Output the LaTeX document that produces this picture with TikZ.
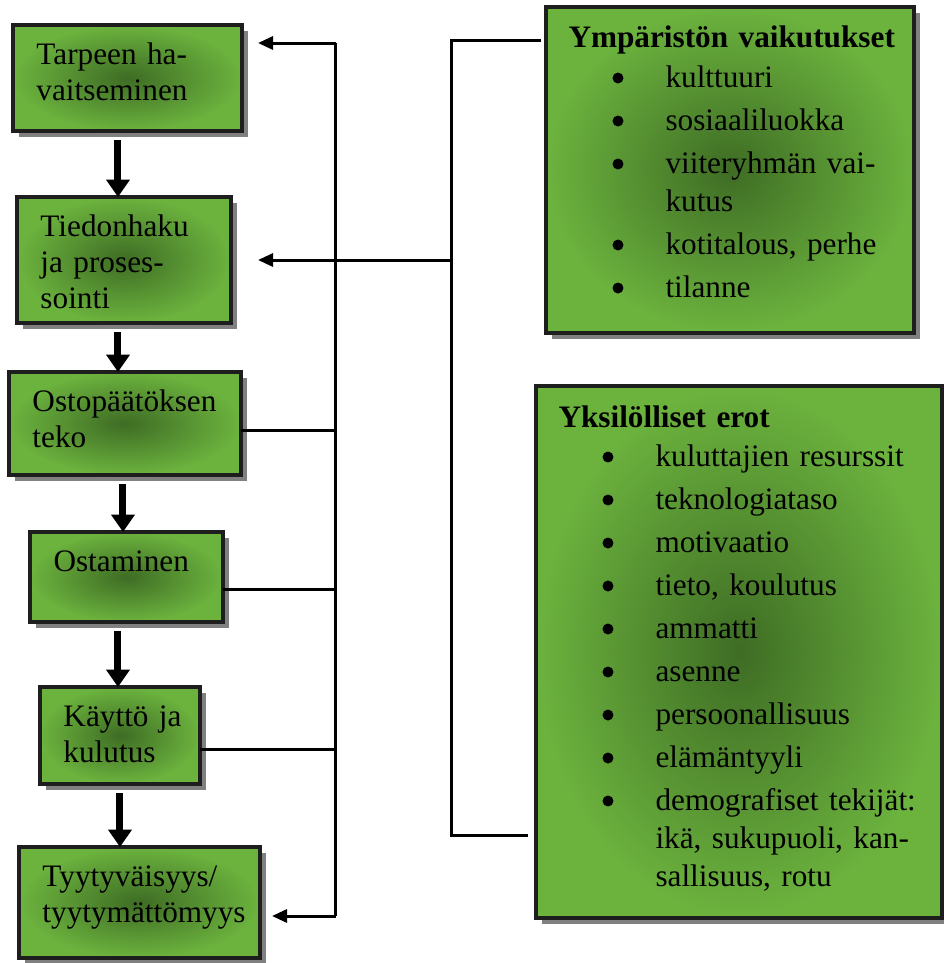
\documentclass[tikz,border=0pt]{standalone}
\usepackage{fontspec}
\setmainfont{Liberation Serif}
\usepackage{tikz}
\usetikzlibrary{arrows.meta,calc,positioning,shadows}

\definecolor{boxgreen}{RGB}{108,179,62}
\definecolor{boxdark}{RGB}{62,108,36}
\definecolor{boxline}{RGB}{30,30,30}

\newcommand\kohta{\hspace*{17.6pt}\makebox[21.2pt][l]{\tikz[baseline=0pt]\fill (2.2pt,3.6pt) circle (2.2pt);}}
\newcommand\jatko{\hspace*{38.8pt}}

\tikzset{
  greenbox/.style={rectangle, draw=boxline, line width=1.4pt, anchor=north west,
    inner sep=0pt, outer sep=0pt, shading=radial, outer color=boxgreen, inner color=boxdark,
    drop shadow={shadow xshift=2.4pt, shadow yshift=-2.4pt, fill=black!50, opacity=1}},
  boxsize/.style 2 args={minimum width=#1*0.4pt, minimum height=#2*0.4pt},
  boxtext/.style={anchor=base west, inner sep=0pt, align=left, text width=#1,
    font=\fontsize{12.5}{14.4}\selectfont},
  listtext/.style={anchor=base west, inner sep=0pt, align=left, text width=#1,
    font=\fontsize{12.5}{15.2}\selectfont},
  downarrow/.style={line width=2.8pt, -{Triangle[width=9.2pt,length=7pt]}, shorten <=3.6pt},
  fbline/.style={line width=1.2pt},
  fbarrow/.style={fbline, -{Triangle[width=5.2pt,length=6pt]}},
}

\begin{document}
\begin{tikzpicture}[x=0.4pt, y=-0.4pt]
    \useasboundingbox (0,0) rectangle (944,963);

    % process steps
    \node[greenbox, boxsize={229}{106}] (tarve) at (13,25) {};
    \node[greenbox, boxsize={214}{126}] (tiedonhaku) at (17,197) {};
    \node[greenbox, boxsize={232}{103}] (ostopaatos) at (9,372) {};
    \node[greenbox, boxsize={193}{90}] (ostaminen) at (30,532) {};
    \node[greenbox, boxsize={160}{97}] (kaytto) at (40,687) {};
    \node[greenbox, boxsize={241}{111}] (tyytyvaisyys) at (19,847) {};

    \node[boxtext=80pt] (tarve-t) at ([shift={(23,39)}]tarve.north west) {Tarpeen ha-\\vaitseminen};
    \node[boxtext=80pt] (tiedonhaku-t) at ([shift={(23,39)}]tiedonhaku.north west) {Tiedonhaku\\ja proses-\\sointi};
    \node[boxtext=80pt] (ostopaatos-t) at ([shift={(23,39)}]ostopaatos.north west) {Ostopäätöksen\\teko};
    \node[boxtext=70pt] (ostaminen-t) at ([shift={(23,39)}]ostaminen.north west) {Ostaminen};
    \node[boxtext=60pt] (kaytto-t) at ([shift={(23,39)}]kaytto.north west) {Käyttö ja\\kulutus};
    \node[boxtext=90pt] (tyytyvaisyys-t) at ([shift={(23,39)}]tyytyvaisyys.north west) {Tyytyväisyys/\\tyytymättömyys};

    % influences
    \node[greenbox, boxsize={368}{326}] (ymparisto) at (546,7) {};
    \node[greenbox, boxsize={406}{532}] (yksilo) at (536,386) {};

    \node[listtext=140pt] (ymparisto-t) at ([shift={(22,40)}]ymparisto.north west) {%
      \textbf{Ympäristön vaikutukset}\\[0.8pt]
      \kohta kulttuuri\\[2pt]
      \kohta sosiaaliluokka\\[2pt]
      \kohta viiteryhmän vai-\\
      \jatko kutus\\[2pt]
      \kohta kotitalous, perhe\\[2pt]
      \kohta tilanne};
    \node[listtext=155pt] (yksilo-t) at ([shift={(22,41)}]yksilo.north west) {%
      \textbf{Yksilölliset erot}\\[0.4pt]
      \kohta kuluttajien resurssit\\[2pt]
      \kohta teknologiataso\\[2pt]
      \kohta motivaatio\\[2pt]
      \kohta tieto, koulutus\\[2pt]
      \kohta ammatti\\[2pt]
      \kohta asenne\\[2pt]
      \kohta persoonallisuus\\[2pt]
      \kohta elämäntyyli\\[2pt]
      \kohta demografiset tekijät:\\
      \jatko ikä, sukupuoli, kan-\\
      \jatko sallisuus, rotu};

    % step arrows
    \foreach \a/\b/\dx in {tarve/tiedonhaku/-2.4, tiedonhaku/ostopaatos/-2.8,
        ostopaatos/ostaminen/-1.4, ostaminen/kaytto/-0.8, kaytto/tyytyvaisyys/-7.8}
      \draw[downarrow] ([xshift=\dx pt]\b.north |- \a.south) -- ([xshift=\dx pt]\b.north);

    % feedback loop
    \coordinate (fbtop) at (336,43);
    \coordinate (fbbot) at (336,916);
    \draw[fbline] (fbbot) -- (fbtop);
    \draw[fbarrow, shorten >=6.4pt] (fbtop) -- (fbtop -| tarve.east);
    \foreach \n/\dy in {ostopaatos/-2.6, ostaminen/-4.8, kaytto/-5.4}
      \draw[fbline] ([yshift=\dy pt]\n.east) coordinate (p) -- (p -| fbtop);
    \draw[fbarrow, shorten >=4.8pt] (fbbot) -- (fbbot -| tyytyvaisyys.east);

    % bracket to the influences
    \coordinate (brtop) at (452,40);
    \coordinate (brbot) at (452,835);
    \draw[fbline] ([xshift=-2pt]ymparisto.west |- brtop) -- (brtop) -- (brbot)
        -- ([xshift=-3.2pt]yksilo.west |- brbot);
    \draw[fbarrow, shorten >=10.8pt] (brtop |- tiedonhaku.east) -- (tiedonhaku.east);
\end{tikzpicture}
\end{document}
